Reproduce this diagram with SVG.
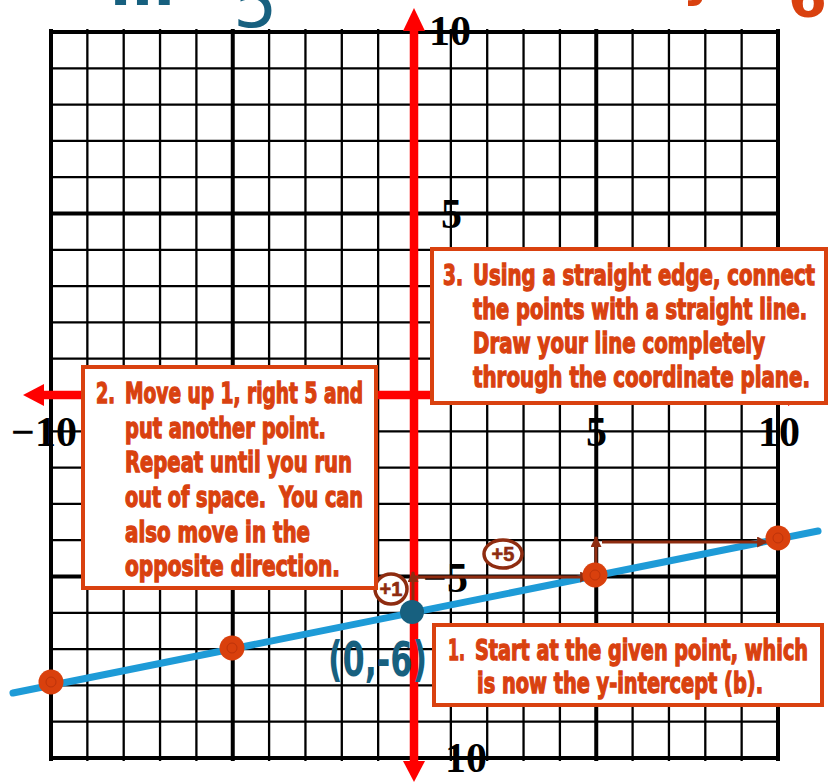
<svg xmlns="http://www.w3.org/2000/svg" width="829" height="784" viewBox="0 0 829 784">
<defs>
<style>
.thin{stroke:#000;stroke-width:2.3;}
.thick{stroke:#000;stroke-width:4;}
.axis{stroke:#ff0000;stroke-width:8.5;}
.axhead{fill:#ff0000;}
.num{font-family:"Liberation Serif","Times New Roman",serif;font-weight:bold;font-size:42px;fill:#000;}
.box{fill:#fff;stroke:#d9410f;stroke-width:4;}
.bt{font-family:"Liberation Sans Narrow","DejaVu Sans Condensed","Liberation Sans",sans-serif;font-weight:bold;font-size:28px;fill:#d9410f;stroke:#d9410f;stroke-width:1.3;}
.pt{fill:#d9400d;}
.ptin{fill:none;stroke:#b5300a;stroke-width:0.8;}
.step{stroke:#8e2c10;stroke-width:3;fill:none;}
.badge{fill:#fff;stroke:#8e2c10;stroke-width:3.5;}
.bl{font-family:"Liberation Sans","Arial",sans-serif;font-weight:bold;font-size:20px;fill:#8e2c10;text-anchor:middle;stroke:#8e2c10;stroke-width:0.6;}
.hand{font-family:"DejaVu Sans","Liberation Sans",sans-serif;}
</style>
<marker id="ah" viewBox="0 0 10 10" refX="9" refY="5" markerWidth="11" markerHeight="11" markerUnits="userSpaceOnUse" orient="auto">
<path d="M0,0 L10,5 L0,10 z" fill="#8e2c10"/>
</marker>
</defs>
<rect width="829" height="784" fill="#fff"/>

<g id="handwriting-top">
<text class="hand" x="110" y="5" font-size="62" font-weight="bold" fill="#17607f">m</text>
<text class="hand" x="233" y="27" font-size="70" fill="#17607f">5</text>
<text class="hand" x="683" y="-4" font-size="50" font-weight="bold" fill="#d9410f">y</text>
<text class="hand" x="788" y="16" font-size="56" font-weight="bold" fill="#d9410f">6</text>
</g>

<g id="grid">
<line class="thick" x1="51" y1="29" x2="51" y2="761"/>
<line class="thin" x1="87.35" y1="29" x2="87.35" y2="761"/>
<line class="thin" x1="123.7" y1="29" x2="123.7" y2="761"/>
<line class="thin" x1="160.05" y1="29" x2="160.05" y2="761"/>
<line class="thin" x1="196.4" y1="29" x2="196.4" y2="761"/>
<line class="thick" x1="232.75" y1="29" x2="232.75" y2="761"/>
<line class="thin" x1="269.1" y1="29" x2="269.1" y2="761"/>
<line class="thin" x1="305.45" y1="29" x2="305.45" y2="761"/>
<line class="thin" x1="341.8" y1="29" x2="341.8" y2="761"/>
<line class="thin" x1="378.15" y1="29" x2="378.15" y2="761"/>
<line class="thin" x1="450.85" y1="29" x2="450.85" y2="761"/>
<line class="thin" x1="487.2" y1="29" x2="487.2" y2="761"/>
<line class="thin" x1="523.55" y1="29" x2="523.55" y2="761"/>
<line class="thin" x1="559.9" y1="29" x2="559.9" y2="761"/>
<line class="thick" x1="596.25" y1="29" x2="596.25" y2="761"/>
<line class="thin" x1="632.6" y1="29" x2="632.6" y2="761"/>
<line class="thin" x1="668.95" y1="29" x2="668.95" y2="761"/>
<line class="thin" x1="705.3" y1="29" x2="705.3" y2="761"/>
<line class="thin" x1="741.65" y1="29" x2="741.65" y2="761"/>
<line class="thick" x1="778" y1="29" x2="778" y2="761"/>
<line class="thick" x1="49" y1="32" x2="780" y2="32"/>
<line class="thin" x1="51" y1="68.3" x2="778" y2="68.3"/>
<line class="thin" x1="51" y1="104.6" x2="778" y2="104.6"/>
<line class="thin" x1="51" y1="140.9" x2="778" y2="140.9"/>
<line class="thin" x1="51" y1="177.2" x2="778" y2="177.2"/>
<line class="thick" x1="51" y1="213.5" x2="778" y2="213.5"/>
<line class="thin" x1="51" y1="249.8" x2="778" y2="249.8"/>
<line class="thin" x1="51" y1="286.1" x2="778" y2="286.1"/>
<line class="thin" x1="51" y1="322.4" x2="778" y2="322.4"/>
<line class="thin" x1="51" y1="358.7" x2="778" y2="358.7"/>
<line class="thin" x1="51" y1="431.3" x2="778" y2="431.3"/>
<line class="thin" x1="51" y1="467.6" x2="778" y2="467.6"/>
<line class="thin" x1="51" y1="503.9" x2="778" y2="503.9"/>
<line class="thin" x1="51" y1="540.2" x2="778" y2="540.2"/>
<line class="thick" x1="51" y1="576.5" x2="778" y2="576.5"/>
<line class="thin" x1="51" y1="612.8" x2="778" y2="612.8"/>
<line class="thin" x1="51" y1="649.1" x2="778" y2="649.1"/>
<line class="thin" x1="51" y1="685.4" x2="778" y2="685.4"/>
<line class="thin" x1="51" y1="721.7" x2="778" y2="721.7"/>
<line class="thick" x1="49" y1="758" x2="780" y2="758"/>
</g>

<g id="axes">
<line class="axis" x1="42" y1="395" x2="790" y2="395"/>
<polygon class="axhead" points="23,395 44,384 44,406"/>
<polygon class="axhead" points="808,395 788,384 788,406"/>
<line class="axis" x1="414" y1="26" x2="414" y2="765"/>
<polygon class="axhead" points="414,8 403,31 425,31"/>
<polygon class="axhead" points="414,782 403,761 425,761"/>
</g>

<g id="axis-labels">
<text class="num" x="429" y="45">10</text>
<text class="num" x="441" y="228">5</text>
<text class="num" x="423" y="592">−5</text>
<text class="num" x="421" y="772">−10</text>
<text class="num" x="11" y="446">−10</text>
<text class="num" x="586" y="446">5</text>
<text class="num" x="758" y="446">10</text>
</g>

<g id="line-graph">
<line x1="13" y1="693" x2="818" y2="531" stroke="#1e9bd7" stroke-width="7" stroke-linecap="round"/>
</g>

<g id="connectors">
<line class="step" x1="413" y1="607" x2="413" y2="572" marker-end="url(#ah)"/>
<line class="step" x1="413" y1="577" x2="590" y2="577" marker-end="url(#ah)"/>
<line class="step" x1="596" y1="568" x2="596" y2="537" marker-end="url(#ah)"/>
<line class="step" x1="602" y1="542" x2="767" y2="542" marker-end="url(#ah)"/>
</g>

<g id="point-a"><circle class="pt" cx="51" cy="682" r="12.5"/><circle class="ptin" cx="51" cy="682" r="5"/></g>
<g id="point-b"><circle class="pt" cx="232" cy="648" r="12.5"/><circle class="ptin" cx="232" cy="648" r="5"/></g>
<g id="point-c"><circle class="pt" cx="595" cy="575" r="12.5"/><circle class="ptin" cx="595" cy="575" r="5"/></g>
<g id="point-d"><circle class="pt" cx="778" cy="538" r="12.5"/><circle class="ptin" cx="778" cy="538" r="5"/></g>
<g id="point-intercept"><circle cx="412" cy="612" r="12" fill="#17607f"/></g>

<g id="intercept-label">
<text class="hand" x="328" y="676" font-size="48" font-weight="bold" fill="#17607f" textLength="99" lengthAdjust="spacingAndGlyphs">(0,-6)</text>
</g>

<g id="badge-plus1">
<ellipse class="badge" cx="391" cy="589" rx="16" ry="15"/>
<text class="bl" x="391" y="596">+1</text>
</g>
<g id="badge-plus5">
<ellipse class="badge" cx="503" cy="554" rx="19" ry="14"/>
<text class="bl" x="503" y="561">+5</text>
</g>

<g id="box-step3">
<rect class="box" x="432" y="249" width="394" height="154"/>
<text class="bt" x="443" y="285" textLength="20" lengthAdjust="spacingAndGlyphs">3.</text>
<text class="bt" x="473" y="285" textLength="342" lengthAdjust="spacingAndGlyphs">Using a straight edge, connect</text>
<text class="bt" x="473" y="319" textLength="334" lengthAdjust="spacingAndGlyphs">the points with a straight line.</text>
<text class="bt" x="473" y="353" textLength="292" lengthAdjust="spacingAndGlyphs">Draw your line completely</text>
<text class="bt" x="473" y="387" textLength="337" lengthAdjust="spacingAndGlyphs">through the coordinate plane.</text>
</g>

<g id="box-step2">
<rect class="box" x="83" y="367" width="293" height="221"/>
<text class="bt" x="96" y="403" textLength="19" lengthAdjust="spacingAndGlyphs">2.</text>
<text class="bt" x="125" y="403" textLength="238" lengthAdjust="spacingAndGlyphs">Move up 1, right 5 and</text>
<text class="bt" x="125" y="438" textLength="201" lengthAdjust="spacingAndGlyphs">put another point.</text>
<text class="bt" x="125" y="472" textLength="227" lengthAdjust="spacingAndGlyphs">Repeat until you run</text>
<text class="bt" x="125" y="507" textLength="238" lengthAdjust="spacingAndGlyphs">out of space.&#160; You can</text>
<text class="bt" x="125" y="542" textLength="185" lengthAdjust="spacingAndGlyphs">also move in the</text>
<text class="bt" x="125" y="576" textLength="215" lengthAdjust="spacingAndGlyphs">opposite direction.</text>
</g>

<g id="box-step1">
<rect class="box" x="434" y="625" width="388" height="80"/>
<text class="bt" x="448" y="660" textLength="17" lengthAdjust="spacingAndGlyphs">1.</text>
<text class="bt" x="475" y="660" textLength="333" lengthAdjust="spacingAndGlyphs">Start at the given point, which</text>
<text class="bt" x="477" y="693" textLength="286" lengthAdjust="spacingAndGlyphs">is now the y-intercept (b).</text>
</g>
</svg>
